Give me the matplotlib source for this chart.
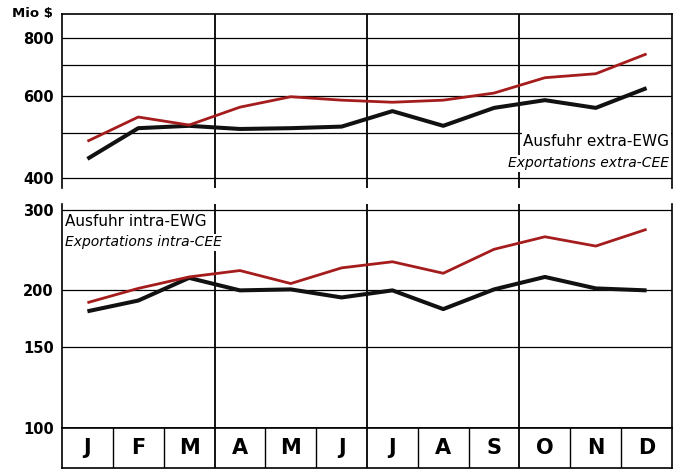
import matplotlib
matplotlib.use("Agg")
import matplotlib.pyplot as plt
from matplotlib.ticker import FixedLocator, NullLocator, NullFormatter

months = ["J", "F", "M", "A", "M", "J", "J", "A", "S", "O", "N", "D"]

extra_red = [480, 541, 520, 568, 598, 588, 582, 588, 609, 657, 670, 739]
extra_black = [440, 512, 518, 510, 512, 516, 557, 518, 566, 588, 566, 624]

intra_red = [188, 202, 214, 221, 207, 224, 231, 218, 246, 262, 250, 272]
intra_black = [180, 190, 213, 200, 201, 193, 200, 182, 201, 214, 202, 200]

top_ticks = [400, 600, 800]
top_grid = [400, 500, 600, 700, 800]
bot_ticks = [100, 150, 200, 300]
bot_grid = [150, 200, 300]

RED = "#a51c1c"
BLACK = "#111111"
W, H = 677, 470

fig = plt.figure(figsize=(6.77, 4.70), dpi=100)
fig.patch.set_facecolor("white")

def fx(px):
    return px / W

def fy(py):
    return 1 - py / H

left, right = 62, 672
x = [i + 0.5 for i in range(12)]

# top panel (extra-EWG)
ax1 = fig.add_axes([fx(left), fy(188), fx(right - left), fy(14) - fy(188)])
ax1.set_yscale("log")
ax1.set_xlim(0, 12)
ax1.set_ylim(381, 900)
ax1.plot(x, extra_black, color=BLACK, lw=2.9, solid_capstyle="butt", zorder=3)
ax1.plot(x, extra_red, color=RED, lw=2.0, solid_capstyle="butt", zorder=4)
for g in top_grid:
    ax1.axhline(g, color="black", lw=0.9, zorder=1)
for v in [3, 6, 9]:
    ax1.axvline(v, color="black", lw=1.3, zorder=1)
ax1.yaxis.set_major_locator(FixedLocator(top_ticks))
ax1.yaxis.set_minor_locator(NullLocator())
ax1.yaxis.set_minor_formatter(NullFormatter())
ax1.set_yticklabels([str(t) for t in top_ticks], fontsize=10.5, fontweight="bold")
ax1.tick_params(axis="y", length=0, pad=6)
ax1.set_xticks([])
ax1.spines["bottom"].set_visible(False)
for s in ["left", "right", "top"]:
    ax1.spines[s].set_linewidth(1.2)
ax1.text(-0.015, 1.0, "Mio $", transform=ax1.transAxes, ha="right", va="center",
         fontsize=9.5, fontweight="bold")
ax1.text(11.95, 498, "Ausfuhr extra-EWG", ha="right", va="top", fontsize=11,
         bbox=dict(facecolor="white", edgecolor="none", pad=1), zorder=5)
ax1.text(11.95, 446, "Exportations extra-CEE", ha="right", va="top", fontsize=10,
         style="italic", bbox=dict(facecolor="white", edgecolor="none", pad=1), zorder=5)

# bottom panel (intra-EWG)
ax2 = fig.add_axes([fx(left), fy(428), fx(right - left), fy(204) - fy(428)])
ax2.set_yscale("log")
ax2.set_xlim(0, 12)
ax2.set_ylim(100, 309)
ax2.plot(x, intra_black, color=BLACK, lw=2.9, solid_capstyle="butt", zorder=3)
ax2.plot(x, intra_red, color=RED, lw=2.0, solid_capstyle="butt", zorder=4)
for g in bot_grid:
    ax2.axhline(g, color="black", lw=0.9, zorder=1)
for v in [3, 6, 9]:
    ax2.axvline(v, color="black", lw=1.3, zorder=1)
ax2.yaxis.set_major_locator(FixedLocator(bot_ticks))
ax2.yaxis.set_minor_locator(NullLocator())
ax2.yaxis.set_minor_formatter(NullFormatter())
ax2.set_yticklabels([str(t) for t in bot_ticks], fontsize=10.5, fontweight="bold")
ax2.tick_params(axis="y", length=0, pad=6)
ax2.set_xticks([])
ax2.spines["top"].set_visible(False)
for s in ["left", "right", "bottom"]:
    ax2.spines[s].set_linewidth(1.2)
ax2.text(0.06, 294, "Ausfuhr intra-EWG", ha="left", va="top", fontsize=11,
         bbox=dict(facecolor="white", edgecolor="none", pad=1), zorder=5)
ax2.text(0.06, 264, "Exportations intra-CEE", ha="left", va="top", fontsize=10,
         style="italic", bbox=dict(facecolor="white", edgecolor="none", pad=1), zorder=5)

# month boxes
ax3 = fig.add_axes([fx(left), fy(468), fx(right - left), fy(428) - fy(468)])
ax3.set_xlim(0, 12)
ax3.set_ylim(0, 1)
for i in range(1, 12):
    ax3.axvline(i, color="black", lw=1.3 if i % 3 == 0 else 1.0)
for xi, m in zip(x, months):
    ax3.text(xi, 0.5, m, ha="center", va="center", fontsize=15, fontweight="bold")
ax3.set_xticks([])
ax3.set_yticks([])
for s in ax3.spines.values():
    s.set_linewidth(1.2)

fig.savefig("out.png", dpi=100, facecolor="white")
